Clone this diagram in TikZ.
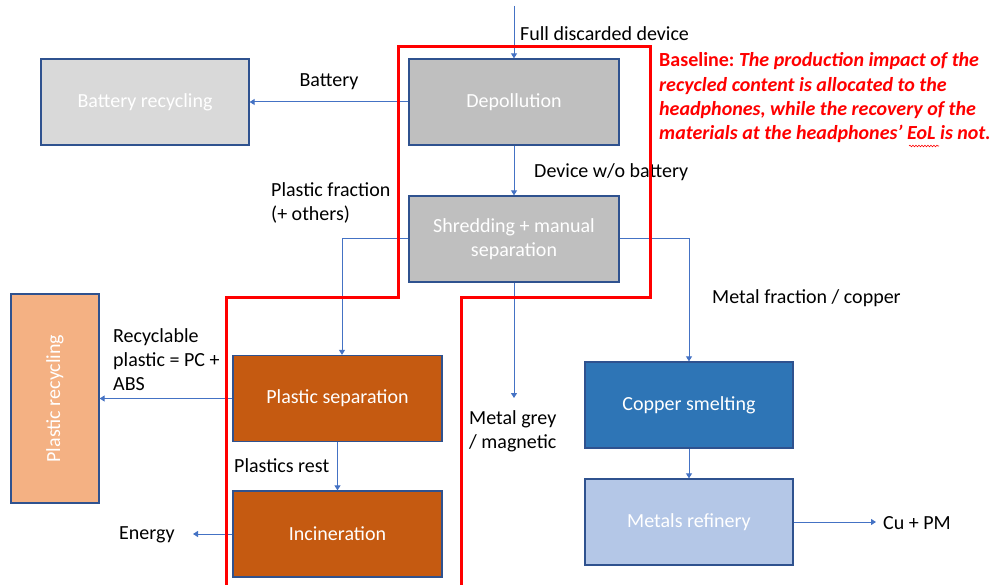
\documentclass[tikz,border=0pt]{standalone}
\usepackage{fontspec}
\setmainfont{Carlito}
\usetikzlibrary{arrows.meta,decorations.pathmorphing}
\definecolor{edge}{HTML}{2F528F}
\definecolor{arrowc}{HTML}{4472C4}
\definecolor{batfill}{HTML}{D9D9D9}
\definecolor{greyfill}{HTML}{BFBFBF}
\definecolor{prcfill}{HTML}{F4B183}
\definecolor{brownfill}{HTML}{C55A11}
\definecolor{cufill}{HTML}{2E75B6}
\definecolor{reffill}{HTML}{B4C7E7}
\definecolor{redline}{HTML}{FF0000}
\begin{document}
\begin{tikzpicture}[x=1pt,y=-1pt,
  every node/.style={font=\fontsize{20}{24}\selectfont},
  box/.style={draw=edge,line width=1.3pt,rectangle,minimum width=208pt,minimum height=86pt,text=white,align=center,inner sep=0pt},
  arr/.style={draw=arrowc,line width=1pt,-{Triangle[width=6pt,length=5pt]}},
  lbl/.style={text=black,align=left,inner sep=0pt},
  redbox/.style={draw=redline,line width=3pt,line join=miter}
]
\useasboundingbox (0,0) rectangle (991,585);
\fill[white] (0,0) rectangle (991,585);

% boxes
\node[box,fill=batfill] (bat) at (145,102) {Battery recycling};
\node[box,fill=greyfill,minimum width=210pt] (dep) at (514,102) {Depollution};
\node[box,fill=greyfill,minimum width=210pt] (shr) at (514,239) {Shredding + manual\\separation};
\node[box,fill=prcfill,minimum width=88pt,minimum height=209pt] (prc) at (55,398.5) {};
\node[text=white,rotate=90] (prclabel) at (prc.center) {Plastic recycling};
\node[box,fill=brownfill,minimum width=209pt] (psep) at (337.5,398.5) {Plastic separation};
\node[box,fill=brownfill,minimum width=209pt] (inc) at (337.5,534) {Incineration};
\node[box,fill=cufill] (cu) at (689,405) {Copper smelting};
\node[box,fill=reffill] (ref) at (689,522) {Metals refinery};

% free ends
\coordinate (start) at (514,6);
\coordinate (mg) at (514,398);
\coordinate (en) at (193,534);
\coordinate (cupm) at (876,522);

% connectors
\draw[arr] (start) -- (dep.north);
\draw[arr] (dep.west) -- (bat.east);
\draw[arr] (dep.south) -- (shr.north);
\draw[arr] (shr.west) -| ([xshift=4.5pt]psep.north);
\draw[arr] (shr.east) -| (cu.north);
\draw[arr] (shr.south) -- (mg);
\draw[arr] (psep.west) -- (prc.east);
\draw[arr] (psep.south) -- (inc.north);
\draw[arr] (inc.west) -- (en);
\draw[arr] (cu.south) -- (ref.north);
\draw[arr] (ref.east) -- (cupm);

% labels
\node[lbl,anchor=west] (lfull) at (520,34) {Full discarded device};
\node[lbl] (lbat) at (329,82) {Battery};
\node[lbl,anchor=west] (ldev) at (534,172) {Device w/o battery};
\node[lbl,anchor=west] (lpf) at (271,203) {Plastic fraction\\(+ others)};
\node[lbl,anchor=west] (lmf) at (712,298) {Metal fraction / copper};
\node[lbl,anchor=west] (lmg) at (469,431) {Metal grey\\/ magnetic};
\node[lbl,anchor=west] (lrec) at (113,360) {Recyclable\\plastic = PC +\\ABS};
\node[lbl,anchor=west] (lrest) at (234,466) {Plastics rest};
\node[lbl,anchor=west] (lener) at (119,535) {Energy};
\node[lbl,anchor=west] (lcupm) at (883,523) {Cu + PM};

% red boundary
\draw[redbox] (226,586) -- (226,298) -- (398,298) -- (398,47) -- (650,47) -- (650,298) -- (461,298) -- (461,586);

% baseline note
\node[lbl,anchor=west,text=redline,font=\fontsize{20}{24.3}\selectfont\bfseries] (note) at (659,98)
  {Baseline:~\textit{The production impact of the}\\\textit{recycled content is allocated to the}\\\textit{headphones, while the recovery of the}\\\textit{materials at the headphones’ EoL is not.}};
\coordinate (sqa) at (909,146);
\coordinate (sqb) at (939,146);
\draw[redline,line width=0.6pt,decorate,decoration={snake,amplitude=0.8pt,segment length=3pt}] (sqa) -- (sqb);
\end{tikzpicture}
\end{document}
